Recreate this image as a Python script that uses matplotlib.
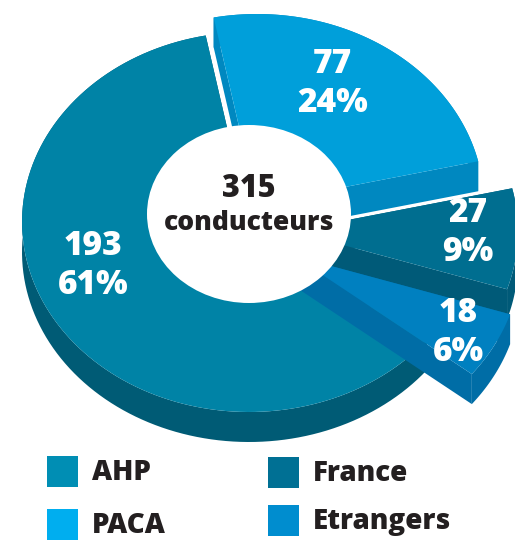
import numpy as np
import matplotlib.pyplot as plt
from matplotlib.patches import Polygon, Ellipse, Rectangle

# ---------------- data ----------------
categories = ["AHP", "PACA", "France", "Etrangers"]
counts = [193, 77, 27, 18]
percent_labels = ["61%", "24%", "9%", "6%"]
total_label = "315"
total_word = "conducteurs"

# ---------------- style ----------------
top_colors = ["#0083A6", "#009FDA", "#006E90", "#0080C0"]
side_colors = ["#005B75", "#0088C0", "#005A78", "#006DA6"]
legend_colors = ["#008EB4", "#00AEEF", "#007094", "#008DCF"]
offsets = [(0, 0), (8, -18), (42, 9), (45, 34)]       # explode (px)
label_r = [0.72, 0.73, 0.78, 0.82]
label_dtheta = [-14, 6, 3, 0]
FONT = "Open Sans"
WEIGHT = 800
DARK = "#231F20"

CX, CY, RX, RY, DEPTH = 249, 222, 227, 190, 30
HOLE = (249, 214, 204, 178)
START = 101.0

fig = plt.figure(figsize=(5.15, 5.4), dpi=100)
ax = fig.add_axes([0, 0, 1, 1])
ax.set_xlim(0, 515)
ax.set_ylim(540, 0)
ax.axis("off")

total = sum(counts)
spans = [c / total * 360 for c in counts]
# AHP goes counter-clockwise from START; the others clockwise from START
angles = []
angles.append((START, START + spans[0]))
a = START
for s in spans[1:]:
    angles.append((a - s, a))
    a -= s


def proj(r, th, z, off):
    t = np.radians(th)
    return (CX + RX * r * np.cos(t) + off[0],
            CY - RY * r * np.sin(t) + off[1] + DEPTH * z)


def draw_piece(i):
    t0, t1 = angles[i]
    off = offsets[i]
    ths = np.linspace(t0, t1, 120)
    # radial faces
    for th in (t0, t1):
        pts = [proj(0, th, 0, off), proj(1, th, 0, off),
               proj(1, th, 1, off), proj(0, th, 1, off)]
        ax.add_patch(Polygon(pts, closed=True, fc=side_colors[i], ec="none"))
    # outer wall
    top = [proj(1, th, 0, off) for th in ths]
    bot = [proj(1, th, 1, off) for th in ths[::-1]]
    ax.add_patch(Polygon(top + bot, closed=True, fc=side_colors[i], ec="none"))
    # top face
    face = [proj(0, t0, 0, off)] + top
    ax.add_patch(Polygon(face, closed=True, fc=top_colors[i], ec="none"))


for i in range(len(categories)):
    draw_piece(i)

# hole
ax.add_patch(Ellipse((HOLE[0], HOLE[1]), HOLE[2], HOLE[3], fc="white", ec="none"))

# slice labels
for i in range(len(categories)):
    t0, t1 = angles[i]
    mid = (t0 + t1) / 2 + label_dtheta[i]
    x, y = proj(label_r[i], mid, 0, offsets[i])
    ax.text(x, y - 7.5, str(counts[i]), color="white", fontsize=24,
            fontweight=WEIGHT, family=FONT, ha="center", va="baseline")
    ax.text(x, y + 31.5, percent_labels[i], color="white", fontsize=24,
            fontweight=WEIGHT, family=FONT, ha="center", va="baseline")

# centre text
ax.text(HOLE[0], HOLE[1] - 17, total_label, color=DARK, fontsize=22,
        fontweight=WEIGHT, family=FONT, ha="center", va="baseline")
ax.text(HOLE[0], HOLE[1] + 16, total_word, color=DARK, fontsize=19,
        fontweight=WEIGHT, family=FONT, ha="center", va="baseline")

# legend (2 columns)
leg_x = [47, 47, 268, 268]
leg_y = [456, 509, 457, 505]
for i, name in enumerate(categories):
    ax.add_patch(Rectangle((leg_x[i], leg_y[i]), 31, 31, fc=legend_colors[i], ec="none"))
    ax.text(leg_x[i] + 45, leg_y[i] + 24, name, color=DARK, fontsize=20,
            fontweight=WEIGHT, family=FONT, ha="left", va="baseline")

fig.savefig("out.png", dpi=100)
